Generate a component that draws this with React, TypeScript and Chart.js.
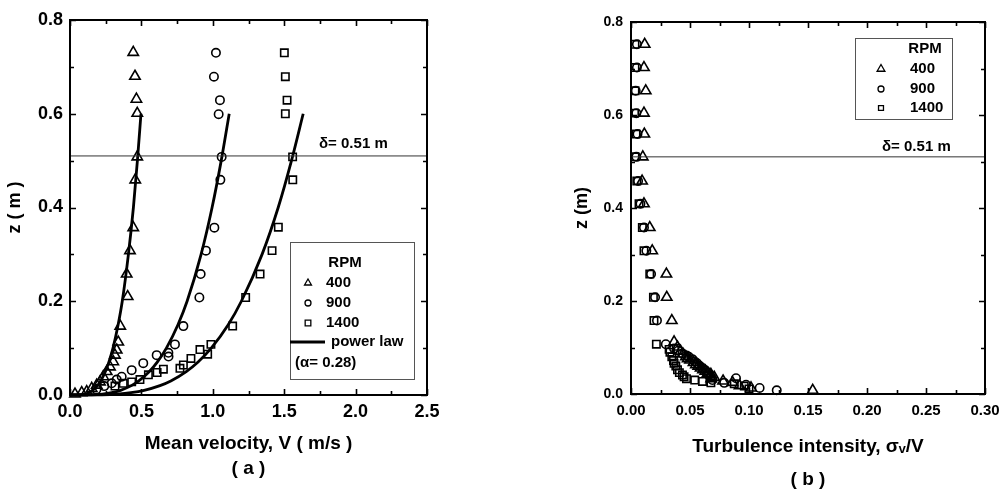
import React, { useEffect, useRef } from 'react';
import { Chart, registerables } from 'chart.js';

Chart.register(...registerables);

const FONT = "'Liberation Sans', Arial, 'DejaVu Sans', sans-serif";

// ---------------- panel (a): mean velocity profiles ----------------
const velRange = [0, 2.5];
const velTicks = [0, 0.5, 1.0, 1.5, 2.0, 2.5];
const zRange = [0, 0.8];
const zTicks = [0, 0.2, 0.4, 0.6, 0.8];
const deltaZ = 0.51;

const v400 = [0.443, 0.455, 0.465, 0.471, 0.471, 0.457, 0.443, 0.420, 0.397, 0.404, 0.352, 0.338, 0.327, 0.315, 0.303, 0.280, 0.257, 0.233, 0.210, 0.187, 0.152, 0.117, 0.082, 0.035];
const zv400 = [0.731, 0.680, 0.631, 0.601, 0.508, 0.459, 0.357, 0.308, 0.258, 0.210, 0.147, 0.113, 0.096, 0.085, 0.071, 0.060, 0.050, 0.039, 0.028, 0.021, 0.014, 0.007, 0.005, 0.002];

const v900 = [1.022, 1.008, 1.050, 1.041, 1.062, 1.053, 1.011, 0.952, 0.915, 0.906, 0.794, 0.735, 0.689, 0.690, 0.607, 0.513, 0.432, 0.362, 0.327, 0.292, 0.240, 0.185];
const zv900 = [0.730, 0.679, 0.629, 0.599, 0.508, 0.459, 0.357, 0.308, 0.258, 0.208, 0.147, 0.108, 0.090, 0.082, 0.085, 0.068, 0.053, 0.039, 0.033, 0.025, 0.019, 0.012];

const v1400 = [1.501, 1.508, 1.520, 1.508, 1.559, 1.560, 1.459, 1.415, 1.331, 1.230, 1.139, 0.987, 0.910, 0.964, 0.847, 0.794, 0.770, 0.654, 0.610, 0.549, 0.490, 0.432, 0.373, 0.315];
const zv1400 = [0.730, 0.679, 0.629, 0.600, 0.508, 0.459, 0.358, 0.308, 0.258, 0.208, 0.147, 0.108, 0.097, 0.087, 0.078, 0.064, 0.057, 0.055, 0.048, 0.043, 0.033, 0.028, 0.025, 0.019];

// power-law fit curves (alpha = 0.28)
const lawZ = [0, 0.0005, 0.002, 0.005, 0.01, 0.02, 0.03, 0.05, 0.07, 0.1, 0.15, 0.2, 0.3, 0.4, 0.5, 0.6];
const law400 = [0, 0.068, 0.101, 0.130, 0.158, 0.192, 0.215, 0.248, 0.272, 0.301, 0.337, 0.366, 0.409, 0.444, 0.472, 0.497];
const law900 = [0, 0.153, 0.226, 0.292, 0.354, 0.430, 0.482, 0.556, 0.611, 0.675, 0.756, 0.820, 0.918, 0.995, 1.059, 1.115];
const law1400 = [0, 0.224, 0.331, 0.427, 0.519, 0.630, 0.706, 0.814, 0.895, 0.989, 1.108, 1.200, 1.345, 1.458, 1.551, 1.633];

// ---------------- panel (b): turbulence intensity ----------------
const tiRange = [0, 0.3];
const tiTicks = [0, 0.05, 0.1, 0.15, 0.2, 0.25, 0.3];

const ti400 = [0.0116, 0.011, 0.0125, 0.011, 0.0113, 0.010, 0.0094, 0.011, 0.0159, 0.018, 0.030, 0.0303, 0.0346, 0.0365, 0.0394, 0.042, 0.044, 0.0465, 0.048, 0.050, 0.053, 0.055, 0.057, 0.059, 0.061, 0.063, 0.065, 0.0677, 0.068, 0.0705, 0.078, 0.086, 0.092, 0.1017, 0.154];
const zt400 = [0.752, 0.702, 0.652, 0.604, 0.559, 0.510, 0.458, 0.409, 0.358, 0.308, 0.258, 0.208, 0.158, 0.112, 0.101, 0.092, 0.086, 0.080, 0.076, 0.073, 0.068, 0.063, 0.060, 0.056, 0.052, 0.049, 0.045, 0.042, 0.033, 0.036, 0.028, 0.025, 0.018, 0.013, 0.008];

const ti900 = [0.005, 0.005, 0.004, 0.0045, 0.0055, 0.0045, 0.006, 0.008, 0.011, 0.013, 0.017, 0.0204, 0.022, 0.0295, 0.0365, 0.040, 0.0436, 0.047, 0.049, 0.052, 0.054, 0.056, 0.058, 0.0606, 0.063, 0.065, 0.066, 0.0677, 0.069, 0.079, 0.089, 0.0975, 0.109, 0.1235];
const zt900 = [0.752, 0.702, 0.652, 0.604, 0.559, 0.510, 0.458, 0.409, 0.358, 0.308, 0.258, 0.208, 0.158, 0.107, 0.098, 0.093, 0.087, 0.083, 0.080, 0.075, 0.070, 0.066, 0.061, 0.056, 0.051, 0.046, 0.041, 0.036, 0.030, 0.024, 0.034, 0.020, 0.013, 0.008];

const ti1400 = [0.0034, 0.0034, 0.0034, 0.003, 0.0043, 0.0034, 0.0049, 0.0068, 0.0096, 0.011, 0.0159, 0.019, 0.0195, 0.0215, 0.0323, 0.033, 0.0346, 0.036, 0.0365, 0.038, 0.0394, 0.041, 0.0436, 0.045, 0.047, 0.054, 0.0606, 0.0677, 0.0875, 0.096, 0.100];
const zt1400 = [0.752, 0.702, 0.652, 0.604, 0.559, 0.510, 0.458, 0.409, 0.358, 0.308, 0.258, 0.208, 0.158, 0.107, 0.096, 0.090, 0.080, 0.072, 0.066, 0.060, 0.052, 0.046, 0.041, 0.037, 0.033, 0.030, 0.027, 0.024, 0.022, 0.017, 0.011];

// ---------------- helpers ----------------
const pts = (xs: number[], ys: number[]) => xs.map((x, i) => ({ x, y: ys[i] }));

function markerDs(label: string, xs: number[], ys: number[], style: string, r: number) {
  return {
    label,
    data: pts(xs, ys),
    pointStyle: style,
    pointRadius: r,
    pointHoverRadius: r,
    pointBorderColor: '#000',
    pointBackgroundColor: 'rgba(0,0,0,0)',
    pointBorderWidth: 1.6,
    showLine: false,
    clip: false,
  };
}

function lineDs(label: string, xs: number[], ys: number[], width: number, color: string, smooth: boolean) {
  return {
    label,
    data: pts(xs, ys),
    showLine: true,
    borderColor: color,
    borderWidth: width,
    pointRadius: 0,
    fill: false,
    cubicInterpolationMode: smooth ? 'monotone' : 'default',
    clip: false,
  };
}

function drawMarker(ctx: CanvasRenderingContext2D, style: string, x: number, y: number, r: number) {
  ctx.beginPath();
  if (style === 'circle') {
    ctx.arc(x, y, r, 0, Math.PI * 2);
  } else if (style === 'rect') {
    const s = r * Math.SQRT1_2;
    ctx.rect(x - s, y - s, 2 * s, 2 * s);
  } else {
    let a = 0;
    ctx.moveTo(x + Math.sin(a) * r, y - Math.cos(a) * r);
    a += (2 * Math.PI) / 3;
    ctx.lineTo(x + Math.sin(a) * r, y - Math.cos(a) * r);
    a += (2 * Math.PI) / 3;
    ctx.lineTo(x + Math.sin(a) * r, y - Math.cos(a) * r);
    ctx.closePath();
  }
  ctx.stroke();
}

const framePlugin = {
  id: 'frame',
  afterDatasetsDraw(chart: any, _args: any, opts: any) {
    const { ctx, chartArea: a, scales } = chart;
    ctx.save();
    // inward tick marks on all four sides
    ctx.strokeStyle = '#000';
    ctx.lineWidth = 1.6;
    const drawTicks = (scale: any, horiz: boolean) => {
      const majors: number[] = scale.ticks.map((t: any) => t.value);
      const vals: { v: number; major: boolean }[] = [];
      majors.forEach((v, i) => {
        vals.push({ v, major: true });
        if (i < majors.length - 1) vals.push({ v: (v + majors[i + 1]) / 2, major: false });
      });
      vals.forEach(({ v, major }) => {
        const len = major ? 6 : 4;
        const p = Math.round(scale.getPixelForValue(v)) + 0.5;
        ctx.beginPath();
        if (horiz) {
          ctx.moveTo(p, a.bottom); ctx.lineTo(p, a.bottom - len);
          ctx.moveTo(p, a.top); ctx.lineTo(p, a.top + len);
        } else {
          ctx.moveTo(a.left, p); ctx.lineTo(a.left + len, p);
          ctx.moveTo(a.right, p); ctx.lineTo(a.right - len, p);
        }
        ctx.stroke();
      });
    };
    drawTicks(scales.x, true);
    drawTicks(scales.y, false);
    ctx.lineWidth = 2;
    ctx.strokeRect(a.left, a.top, a.right - a.left, a.bottom - a.top);

    // legend box
    if (opts.box) {
      const b = opts.box;
      ctx.fillStyle = '#fff';
      ctx.fillRect(b.x, b.y, b.w, b.h);
      ctx.strokeStyle = '#555';
      ctx.lineWidth = 1;
      ctx.strokeRect(b.x + 0.5, b.y + 0.5, b.w, b.h);
    }
    ctx.strokeStyle = '#000';
    ctx.lineWidth = 1.3;
    (opts.markers || []).forEach((m: any) => drawMarker(ctx, m.style, m.x, m.y, m.r));
    (opts.lines || []).forEach((l: any) => {
      ctx.lineWidth = l.w;
      ctx.beginPath();
      ctx.moveTo(l.x1, l.y);
      ctx.lineTo(l.x2, l.y);
      ctx.stroke();
    });
    ctx.fillStyle = '#000';
    ctx.textBaseline = 'middle';
    (opts.texts || []).forEach((t: any) => {
      ctx.font = `bold ${t.size || 15}px ${FONT}`;
      ctx.textAlign = t.align || 'left';
      ctx.fillText(t.t, t.x, t.y);
    });
    ctx.restore();
  },
};

function makeConfig(p: any) {
  return {
    type: 'scatter',
    data: { datasets: p.datasets },
    plugins: [framePlugin],
    options: {
      responsive: false,
      animation: false,
      events: [],
      layout: { padding: p.padding },
      plugins: {
        legend: { display: false },
        tooltip: { enabled: false },
        frame: p.frame,
      },
      scales: {
        x: {
          type: 'linear',
          min: p.xRange[0],
          max: p.xRange[1],
          afterBuildTicks: (s: any) => { s.ticks = p.xTicks.map((v: number) => ({ value: v })); },
          afterFit: (s: any) => { s.height = p.xHeight; s.paddingLeft = 0; s.paddingRight = 0; },
          grid: { display: false, drawTicks: false },
          border: { display: false },
          ticks: {
            color: '#000',
            font: { family: FONT, size: p.xTickSize, weight: 'bold' },
            padding: p.xTickPad,
            maxRotation: 0,
            autoSkip: false,
            callback: (v: number) => Number(v).toFixed(p.xDigits),
          },
          title: {
            display: true,
            text: p.xTitle,
            color: '#000',
            font: { family: FONT, size: p.xTitleSize, weight: 'bold', lineHeight: p.xTitleLH },
            padding: { top: 0, bottom: p.xTitlePad },
          },
        },
        y: {
          type: 'linear',
          min: zRange[0],
          max: zRange[1],
          afterBuildTicks: (s: any) => { s.ticks = zTicks.map((v) => ({ value: v })); },
          afterFit: (s: any) => { s.width = p.yWidth; s.paddingTop = 0; s.paddingBottom = 0; },
          grid: { display: false, drawTicks: false },
          border: { display: false },
          ticks: {
            color: '#000',
            font: { family: FONT, size: p.yTickSize, weight: 'bold' },
            padding: p.yTickPad,
            autoSkip: false,
            callback: (v: number) => Number(v).toFixed(1),
          },
          title: {
            display: true,
            text: p.yTitle,
            color: '#000',
            font: { family: FONT, size: 18, weight: 'bold' },
            padding: { top: p.yTitlePad, bottom: 0 },
          },
        },
      },
    },
  };
}

const configA = () =>
  makeConfig({
    datasets: [
      lineDs('δ', velRange, [deltaZ, deltaZ], 1, '#333', false),
      lineDs('power law 400', law400, lawZ, 2.8, '#000', true),
      lineDs('power law 900', law900, lawZ, 2.8, '#000', true),
      lineDs('power law 1400', law1400, lawZ, 2.8, '#000', true),
      markerDs('400', v400, zv400, 'triangle', 6),
      markerDs('900', v900, zv900, 'circle', 4.2),
      markerDs('1400', v1400, zv1400, 'rect', 5.2),
    ],
    padding: { left: 0, right: 73, top: 20, bottom: 0 },
    xRange: velRange,
    xTicks: velTicks,
    xDigits: 1,
    xHeight: 94,
    xTickSize: 18,
    xTickPad: 6,
    xTitle: ['Mean velocity, V ( m/s )', '( a )'],
    xTitleSize: 19,
    xTitleLH: 25 / 19,
    xTitlePad: 8,
    yWidth: 70,
    yTickSize: 18,
    yTickPad: 7,
    yTitle: 'z ( m )',
    yTitlePad: 4,
    frame: {
      box: { x: 290, y: 242, w: 124, h: 137 },
      markers: [
        { style: 'triangle', x: 308, y: 283, r: 4 },
        { style: 'circle', x: 308, y: 303, r: 3 },
        { style: 'rect', x: 308, y: 323, r: 4 },
      ],
      lines: [{ x1: 290, x2: 325, y: 342, w: 3 }],
      texts: [
        { t: 'δ= 0.51 m', x: 319, y: 144 },
        { t: 'RPM', x: 345, y: 263, align: 'center' },
        { t: '400', x: 326, y: 283 },
        { t: '900', x: 326, y: 303 },
        { t: '1400', x: 326, y: 323 },
        { t: 'power law', x: 331, y: 342 },
        { t: '(α= 0.28)', x: 295, y: 363 },
      ],
    },
  });

const configB = () =>
  makeConfig({
    datasets: [
      lineDs('δ', tiRange, [deltaZ, deltaZ], 1, '#333', false),
      markerDs('400', ti400, zt400, 'triangle', 6),
      markerDs('900', ti900, zt900, 'circle', 4.2),
      markerDs('1400', ti1400, zt1400, 'rect', 5.2),
    ],
    padding: { left: 69, right: 15, top: 22, bottom: 0 },
    xRange: tiRange,
    xTicks: tiTicks,
    xDigits: 2,
    xHeight: 95,
    xTickSize: 15,
    xTickPad: 8,
    xTitle: ['Turbulence intensity, σᵥ/V', '( b )'],
    xTitleSize: 19,
    xTitleLH: 33 / 19,
    xTitlePad: -7,
    yWidth: 62,
    yTickSize: 14,
    yTickPad: 8,
    yTitle: 'z (m)',
    yTitlePad: 2,
    frame: {
      box: { x: 355, y: 38, w: 97, h: 81 },
      markers: [
        { style: 'triangle', x: 381, y: 69, r: 4.5 },
        { style: 'circle', x: 381, y: 89, r: 3 },
        { style: 'rect', x: 381, y: 108, r: 3.5 },
      ],
      texts: [
        { t: 'RPM', x: 425, y: 49, align: 'center' },
        { t: '400', x: 410, y: 69 },
        { t: '900', x: 410, y: 89 },
        { t: '1400', x: 410, y: 108 },
        { t: 'δ= 0.51 m', x: 382, y: 147 },
      ],
    },
  });

function Panel({ config }: { config: () => any }) {
  const ref = useRef<HTMLCanvasElement>(null);
  useEffect(() => {
    const chart = new Chart(ref.current as HTMLCanvasElement, config());
    return () => chart.destroy();
  }, [config]);
  return <canvas ref={ref} width={500} height={489} style={{ display: 'block', width: 500, height: 489 }} />;
}

export default function App() {
  return (
    <div style={{ position: 'fixed', left: 0, top: 0, width: 1000, height: 489, display: 'flex', background: '#fff' }}>
      <Panel config={configA} />
      <Panel config={configB} />
    </div>
  );
}
